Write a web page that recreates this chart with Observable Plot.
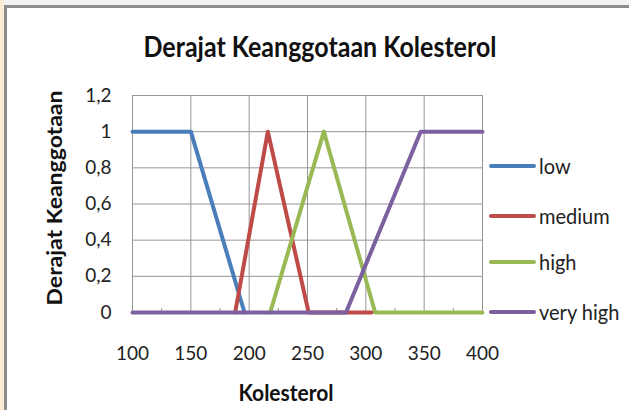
<!DOCTYPE html>
<html><head><meta charset="utf-8">
<script src="https://cdn.jsdelivr.net/npm/d3@7"></script>
<script src="https://cdn.jsdelivr.net/npm/@observablehq/plot@0.6"></script>
<style>
html,body{margin:0;padding:0;background:#fff;}
#wrap{position:relative;width:629px;height:410px;overflow:hidden;background:#f2f2f2;font-family:Lato,sans-serif;}
#strip{position:absolute;left:0;top:0;width:4px;height:410px;background:#fdebd3;}
#card{position:absolute;left:4px;top:5px;right:0;bottom:0;background:#fff;border-left:3px solid #8c8c8c;border-top:3px solid #8c8c8c;}
#chart{position:absolute;left:0;top:0;}
.t{position:absolute;white-space:nowrap;color:#111;line-height:1;}
.sw{position:absolute;height:4px;border-radius:2px;}
</style></head>
<body><div id="wrap"><div id="strip"></div><div id="card"></div><div id="chart"></div>
<div class="t" id="title" style="left:320px;top:34px;transform:translateX(-50%) scaleY(1.12);font-weight:700;font-size:25px;">Derajat Keanggotaan Kolesterol</div>
<div class="t" id="xlab" style="left:286px;top:381px;transform:translateX(-50%) scaleY(1.12);font-weight:700;font-size:21px;">Kolesterol</div>
<div class="t" id="ylab" style="left:54px;top:198px;transform:translate(-50%,-50%) rotate(-90deg) scaleY(0.92);font-weight:700;font-size:23px;">Derajat Keanggotaan</div>
<div id="legend"></div>
</div>
<script>
const seriesNames = ["low", "medium", "high", "very high"];
const seriesColors = ["#4A7EBB", "#BE4B48", "#98B954", "#7D60A0"];
const lowX = [100, 150, 196];
const lowY = [1, 1, 0];
const mediumX = [188, 216, 251, 305];
const mediumY = [0, 1, 0, 0];
const highX = [218, 264, 308, 400];
const highY = [0, 1, 0, 0];
const veryHighX = [100, 283, 347, 400];
const veryHighY = [0, 0, 1, 1];
const xTicks = [100, 150, 200, 250, 300, 350, 400];
const xMinorTicks = [125, 175, 225, 275, 325, 375];
const yTicks = [0, 0.2, 0.4, 0.6, 0.8, 1, 1.2];

const seriesX = [lowX, mediumX, highX, veryHighX];
const seriesY = [lowY, mediumY, highY, veryHighY];
const rows = [];
seriesNames.forEach((s, i) => seriesX[i].forEach((x, j) => rows.push({series: s, x, y: seriesY[i][j]})));

const fmt = d => String(d).replace(".", ",");

const chart = Plot.plot({
  width: 629, height: 410,
  marginLeft: 132, marginRight: 147, marginTop: 95, marginBottom: 98,
  style: {background: "transparent", fontFamily: "Lato, sans-serif", fontSize: "19px", color: "#222"},
  x: {domain: [100, 400]},
  y: {domain: [0, 1.2]},
  color: {domain: seriesNames, range: seriesColors},
  marks: [
    Plot.gridX(xTicks, {stroke: "#959595", strokeOpacity: 1}),
    Plot.gridY(yTicks, {stroke: "#959595", strokeOpacity: 1}),
    Plot.axisY({ticks: yTicks, tickSize: 0, tickPadding: 21, tickFormat: fmt, label: null}),
    Plot.axisX({ticks: xTicks, tickSize: 0, tickPadding: 34, label: null}),
    Plot.axisX({ticks: xMinorTicks, tickSize: 4, dy: -4, tickFormat: () => "", label: null, stroke: "#959595"}),
    Plot.ruleY([0], {stroke: "#959595"}),
    Plot.line(rows, {x: "x", y: "y", z: "series", stroke: "series", strokeWidth: 4})
  ]
});
document.getElementById("chart").appendChild(chart);

const legendY = [166, 216, 262, 312];
const lg = document.getElementById("legend");
seriesNames.forEach((s, i) => {
  const sw = document.createElement("div");
  sw.className = "sw";
  sw.style.left = "489px"; sw.style.width = "47px";
  sw.style.top = (legendY[i] - 2) + "px";
  sw.style.background = seriesColors[i];
  lg.appendChild(sw);
  const t = document.createElement("div");
  t.className = "t";
  t.style.left = "539px"; t.style.top = legendY[i] + "px";
  t.style.transform = "translateY(-55%) scaleY(1.1)";
  t.style.fontSize = "20px"; t.style.color = "#222";
  t.textContent = s;
  lg.appendChild(t);
});
</script>
</body></html>
